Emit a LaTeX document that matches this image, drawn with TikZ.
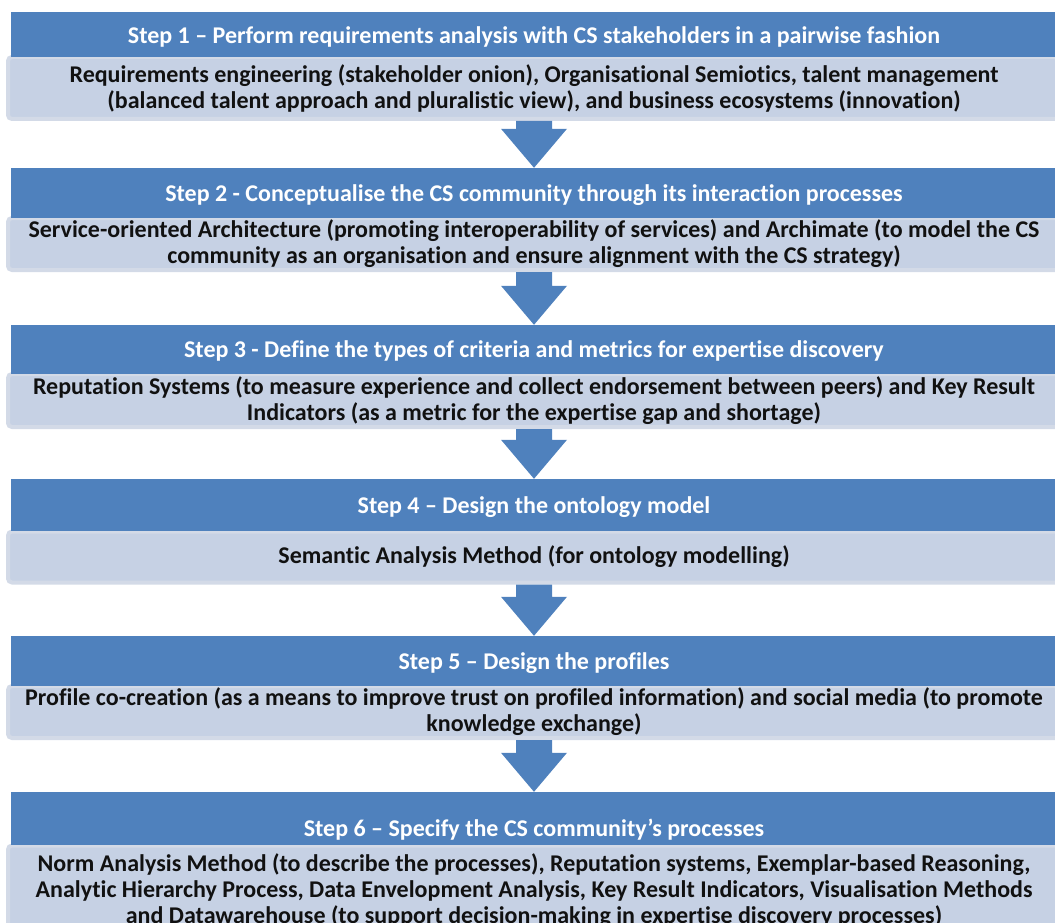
\documentclass[tikz,border=0pt]{standalone}
\usepackage{fontspec}
\setmainfont{Carlito}[Ligatures={NoCommon}]
\usetikzlibrary{calc}
\definecolor{stepblue}{HTML}{4F81BD}
\definecolor{bodyfill}{HTML}{C6D1E4}
\definecolor{bodyedge}{HTML}{D3DAE7}
\definecolor{bodytext}{HTML}{111111}
\tikzset{
  stephead/.style={rectangle, fill=stepblue, inner sep=0pt,
    minimum width=1046pt, text=white, text depth=6pt, text height=22pt,
    font=\fontsize{24}{26}\selectfont\bfseries},
  stepbody/.style={rectangle, rounded corners=4pt, fill=bodyfill, draw=bodyedge,
    line width=4pt, inner sep=0pt, minimum width=1052pt, align=center,
    text=bodytext, font=\fontsize{24}{26}\selectfont\bfseries},
  flow/.style={fill=stepblue}
}
% block arrow from the bottom of one body (#1) to the top of the next header (#2)
\newcommand\blockarrow[2]{%
  \fill[flow] let \p1=(#1.south), \p2=(#2.north) in
    (\x1-18,\y1) -- (\x1+18,\y1) -- (\x1+18,\y2+39) -- (\x1+33,\y2+39)
    -- (\x2,\y2) -- (\x1-33,\y2+39) -- (\x1-18,\y2+39) -- cycle;}
\begin{document}
\begin{tikzpicture}[x=1pt,y=1pt]
\useasboundingbox (0,0) rectangle (1055,-923);
\clip (0,0) rectangle (1055,-923);

% text-filled bodies first, step headers on top
\node[stepbody, minimum height=62pt] (b1) at (534,-88)
  {Requirements engineering (stakeholder onion), Organisational Semiotics, talent management\\
   (balanced talent approach and pluralistic view), and business ecosystems (innovation)};
\node[stephead, minimum height=45pt, text height=24pt] (h1) at (534,-34.5)
  {Step 1 – Perform requirements analysis with CS stakeholders in a pairwise fashion};

\node[stepbody, minimum height=52pt] (b2) at (534,-244)
  {Service-oriented Architecture (promoting interoperability of services) and Archimate (to model the CS\\
   community as an organisation and ensure alignment with the CS strategy)};
\node[stephead, minimum height=50pt] (h2) at (534,-193)
  {Step 2 - Conceptualise the CS community through its interaction processes};

\node[stepbody, minimum height=53pt] (b3) at (534,-400.5)
  {Reputation Systems (to measure experience and collect endorsement between peers) and Key Result\\
   Indicators (as a metric for the expertise gap and shortage)};
\node[stephead, minimum height=49pt] (h3) at (534,-349.5)
  {Step 3 - Define the types of criteria and metrics for expertise discovery};

\node[stepbody, minimum height=51pt] (b4) at (534,-557)
  {Semantic Analysis Method (for ontology modelling)};
\node[stephead, minimum height=52pt] (h4) at (534,-505)
  {Step 4 – Design the ontology model};

\node[stepbody, minimum height=52pt] (b5) at (534,-712)
  {Profile co-creation (as a means to improve trust on profiled information) and social media (to promote\\
   knowledge exchange)};
\node[stephead, minimum height=50pt] (h5) at (534,-661)
  {Step 5 – Design the profiles};

\node[stepbody, minimum height=90pt] (b6) at (534,-890.5)
  {Norm Analysis Method (to describe the processes), Reputation systems, Exemplar-based Reasoning,\\
   Analytic Hierarchy Process, Data Envelopment Analysis, Key Result Indicators, Visualisation Methods\\
   and Datawarehouse (to support decision-making in expertise discovery processes)};
\node[stephead, minimum height=53pt, text height=42pt] (h6) at (534,-818.5)
  {Step 6 – Specify the CS community’s processes};

% block arrows between consecutive steps
\blockarrow{b1}{h2}
\blockarrow{b2}{h3}
\blockarrow{b3}{h4}
\blockarrow{b4}{h5}
\blockarrow{b5}{h6}
\end{tikzpicture}
\end{document}
